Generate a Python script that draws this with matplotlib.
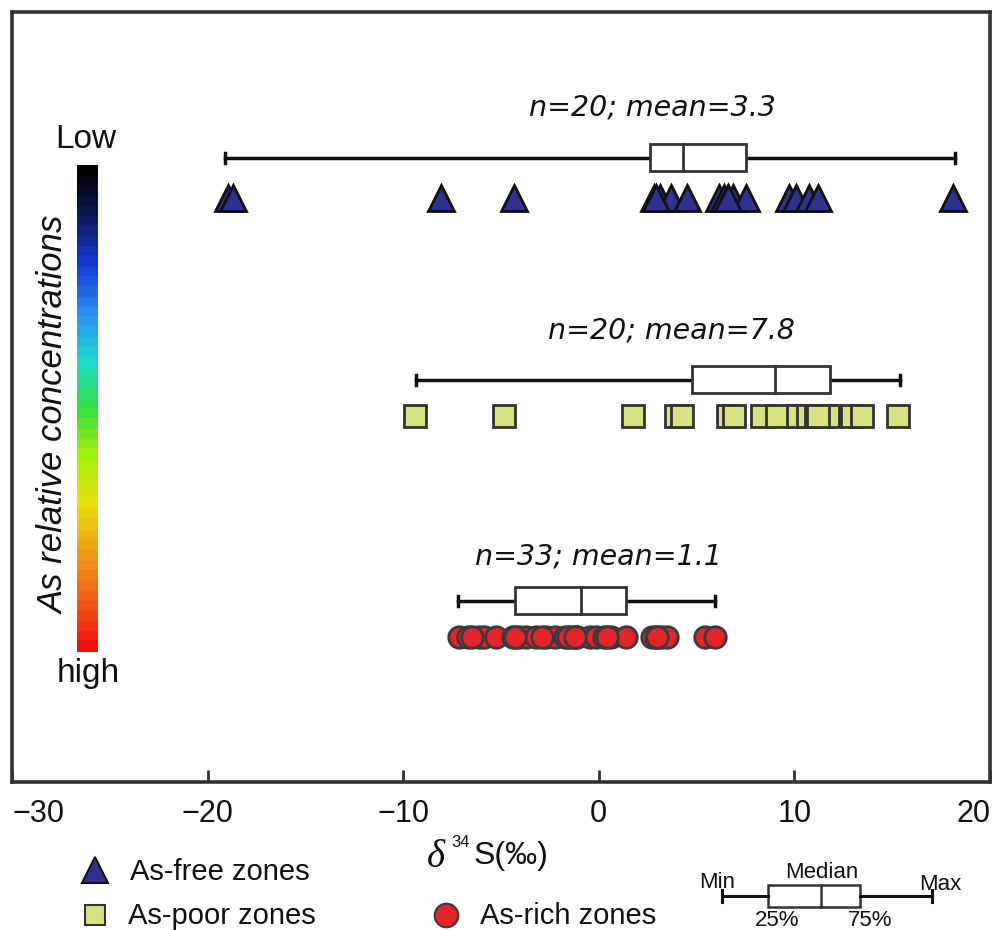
import numpy as np
import matplotlib
matplotlib.use("Agg")
import matplotlib.pyplot as plt
from matplotlib.colors import LinearSegmentedColormap

# ---------------- data ----------------
free_vals = [-18.97, -18.72, -8.05, -4.36, 2.82, 3.11, 3.71, 4.53, 6.15, 6.41,
             6.58, 6.84, 7.52, 9.74, 10.09, 10.77, 11.19, 18.10, 2.90, 6.60]
poor_vals = [-9.40, -4.87, 1.76, 3.93, 4.27, 6.62, 6.92, 8.32, 9.09, 10.41,
             10.87, 11.49, 11.74, 12.92, 13.44, 15.30, 10.20, 10.70, 11.10, 11.20]
rich_vals = [-7.14, -6.67, -6.15, -5.85, -5.28, -4.41, -4.10, -3.74, -3.23, -2.72,
             -2.26, -1.74, -1.44, -1.18, -1.13, -0.46, -0.15, 0.26, 0.62, 1.38,
             2.72, 2.92, 3.18, 3.49, 5.44, 5.95, -6.50, -4.30, -2.90, -1.60,
             -1.20, 0.40, 3.00]

# box summaries: min, q1, median, q3, max
free_box = [-19.1, 2.6, 4.3, 7.5, 18.2]
poor_box = [-9.35, 4.77, 9.03, 11.8, 15.4]
rich_box = [-7.18, -4.29, -0.91, 1.40, 5.95]

labels_stats = ["n=20; mean=3.3", "n=20; mean=7.8", "n=33; mean=1.1"]
legend_names = ["As-free zones", "As-poor zones", "As-rich zones"]
xticks = [-30, -20, -10, 0, 10, 20]

regular = "Liberation Sans"
wide = "DejaVu Sans"

W, H = 995, 930
fig = plt.figure(figsize=(W / 100, H / 100), dpi=100)

# main axes (pixel frame 12..990 x, 12..782 y)
ax = fig.add_axes([12 / W, (H - 782) / H, (990 - 12) / W, (782 - 12) / H])
ax.set_xlim(-30, 20)
ax.set_ylim(770, 0)

edge = "#333333"
for s in ax.spines.values():
    s.set_linewidth(2.6)
    s.set_color(edge)

ax.set_yticks([])
ax.set_xticks(xticks)
ax.tick_params(axis="x", direction="in", length=9, width=2, color=edge, pad=12)
ticklabels = [("\u2212%d" % abs(t)) if t < 0 else "%d" % t for t in xticks]
ax.set_xticklabels(ticklabels, fontsize=22, family=regular, color="#111111")
tl = ax.get_xticklabels()
tl[0].set_ha("left")
tl[-1].set_ha("right")

groups = [
    (free_vals, free_box, "^", "#2e3191", "#111111", 186, 146, 96, 653, 19),
    (poor_vals, poor_box, "s", "#d9e282", "#333333", 404, 368, 319, 672, 16.5),
    (rich_vals, rich_box, "o", "#e3242b", "#3a3a3a", 625, 589, 544, 600, 15.5),
]

for i, (vals, box, mk, fc, ec, ym, yb, yt, xt_px, ms) in enumerate(groups):
    ax.plot(vals, [ym] * len(vals), linestyle="none", marker=mk, markersize=ms,
            markerfacecolor=fc, markeredgecolor=ec, markeredgewidth=2, zorder=3)
    mn, q1, med, q3, mx = box
    hb = 13.5
    ax.plot([mn, q1], [yb, yb], color="#111111", lw=2.5, zorder=2)
    ax.plot([q3, mx], [yb, yb], color="#111111", lw=2.5, zorder=2)
    for c in (mn, mx):
        ax.plot([c, c], [yb - 5, yb + 5], color="#111111", lw=2.5, zorder=2)
    ax.fill([q1, q3, q3, q1], [yb - hb, yb - hb, yb + hb, yb + hb],
            facecolor="white", edgecolor=edge, lw=2, zorder=2)
    ax.plot([med, med], [yb - hb, yb + hb], color=edge, lw=2, zorder=2)
    xt = (xt_px - 600) / 19.5
    ax.text(xt, yt, labels_stats[i], ha="center", va="center", fontsize=20.5,
            style="italic", family=wide, color="#111111")

# ---------------- colorbar ----------------
cmap = LinearSegmentedColormap.from_list(
    "asconc",
    ["#000000", "#0b1a5a", "#1a3ad8", "#2a8ef0", "#20d8d0", "#30e040",
     "#a8f010", "#e8e010", "#f0a018", "#f06018", "#f01010"], N=48)
cax = fig.add_axes([77 / W, (H - 652) / H, 21 / W, (652 - 165) / H])
grad = np.linspace(0, 1, 256).reshape(-1, 1)
cax.imshow(grad, aspect="auto", cmap=cmap, origin="upper")
cax.set_axis_off()

# ---------------- overlay for free text/legend ----------------
ov = fig.add_axes([0, 0, 1, 1], facecolor="none")
ov.set_xlim(0, W)
ov.set_ylim(H, 0)
ov.set_axis_off()

ov.text(86, 139, "Low", ha="center", va="center", fontsize=24, family=regular, color="#111111")
ov.text(88, 673, "high", ha="center", va="center", fontsize=24, family=regular, color="#111111")
ov.text(54, 415, "As relative concentrations", ha="center", va="center", rotation=90,
        fontsize=25, style="italic", family=regular, color="#111111")

# x-axis label
ov.text(436, 857, "\u03b4", ha="center", va="center", fontsize=28, style="italic",
        family="Liberation Serif", color="#111111")
ov.text(461, 842, "34", ha="center", va="center", fontsize=12, family=regular, color="#111111")
ov.text(474, 856, "S(\u2030)", ha="left", va="center", fontsize=23, family=regular, color="#111111")

# legend markers
ov.plot([95], [870], marker="^", markersize=19, markerfacecolor="#2e3191",
        markeredgecolor="#111111", markeredgewidth=1.5, linestyle="none")
ov.plot([95], [915], marker="s", markersize=15, markerfacecolor="#d9e282",
        markeredgecolor="#333333", markeredgewidth=1.5, linestyle="none")
ov.plot([446], [915], marker="o", markersize=17, markerfacecolor="#e3242b",
        markeredgecolor="#3a3a3a", markeredgewidth=1.5, linestyle="none")
ov.text(130, 872, legend_names[0], ha="left", va="center", fontsize=21, family=regular, color="#111111")
ov.text(128, 916, legend_names[1], ha="left", va="center", fontsize=21, family=regular, color="#111111")
ov.text(480, 916, legend_names[2], ha="left", va="center", fontsize=21, family=regular, color="#111111")

# box legend
yb = 896
ov.plot([722, 768], [yb, yb], color="#111111", lw=2.2)
ov.plot([860, 932], [yb, yb], color="#111111", lw=2.2)
for c in (722, 932):
    ov.plot([c, c], [yb - 6, yb + 6], color="#111111", lw=2.2)
ov.fill([768, 860, 860, 768], [885, 885, 907, 907], facecolor="white", edgecolor=edge, lw=1.8)
ov.plot([821, 821], [885, 907], color=edge, lw=1.8)
ov.text(717, 882, "Min", ha="center", va="center", fontsize=16, family=regular, color="#111111")
ov.text(822, 872, "Median", ha="center", va="center", fontsize=16, family=regular, color="#111111")
ov.text(940, 884, "Max", ha="center", va="center", fontsize=16, family=regular, color="#111111")
ov.text(777, 920, "25%", ha="center", va="center", fontsize=16, family=regular, color="#111111")
ov.text(870, 920, "75%", ha="center", va="center", fontsize=16, family=regular, color="#111111")

fig.savefig("out.png", dpi=100)
